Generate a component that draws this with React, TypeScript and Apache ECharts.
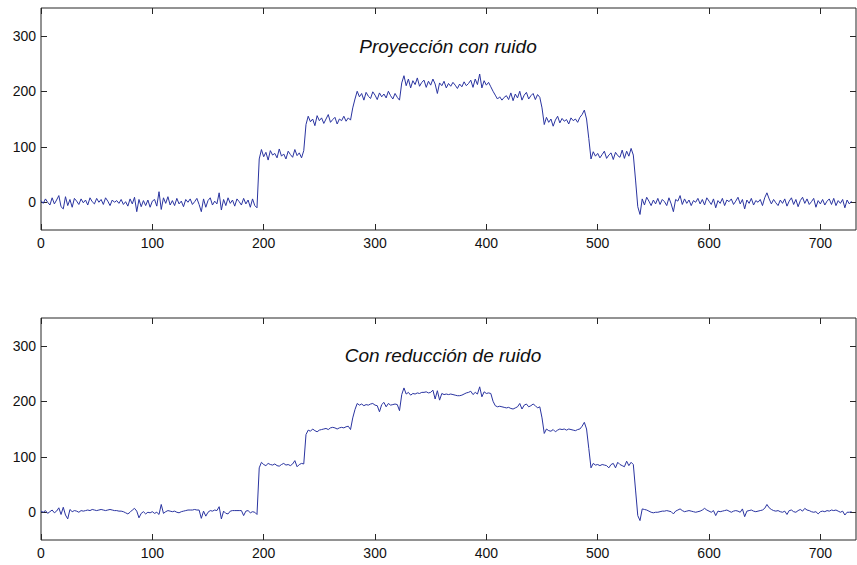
import React, { useEffect, useRef } from "react";
import * as echarts from "echarts";

// sample positions (every 2 samples along the projection)
const sampleX: number[] = Array.from({ length: 365 }, (_, i) => i * 2);

const xTicks = [0, 100, 200, 300, 400, 500, 600, 700];
const yTicks = [0, 100, 200, 300];

const titleTop = "Proyección con ruido";
const titleBottom = "Con reducción de ruido";

// Proyección con ruido
const noisy: number[] = [
  // x 0..194
  3, -2, 6, 0, -5, 8, -3, 4, 12, -8,
  -12, 10, -6, 5, -9, 7, 2, -4, 6, -1,
  4, -5, 8, 1, -3, 7, 0, 5, -4, 8,
  2, -6, 4, 0, 3, -2, 5, -4, 1, -7,
  6, -3, 9, -17, 5, -8, 3, -6, 4, -9,
  2, 5, -7, 19, -13, 8, -2, 10, -5, 3,
  -6, 7, -3, 2, -8, 5, 0, 6, -4, 1,
  7, -4, -17, 6, -9, 3, 8, -5, 2, -3,
  17, -14, 5, -6, 8, -2, 4, -7, 6, 1,
  -5, 7, -3, 4, -9, 6, -6, -10,
  // x 196..236
  78, 95, 82, 90, 76, 93, 85, 88, 80, 96, 83, 87, 78, 92, 86, 81, 95, 84, 89, 80, 93,
  // x 238..280
  140, 155, 145, 150, 138, 156, 147, 152, 142, 150, 158, 144, 149, 153, 141, 150, 147, 155, 146, 152, 148, 170,
  // x 282..322
  186, 200, 190, 196, 184, 198, 191, 187, 199, 193, 185, 197, 190, 195, 188, 200, 192, 186, 196, 189, 184,
  // x 324..406
  215, 228, 210, 222, 206, 219, 212, 224, 209, 216,
  220, 207, 218, 211, 222, 213, 196, 215, 210, 218,
  206, 214, 209, 216, 211, 205, 213, 208, 217, 210,
  214, 220, 207, 222, 212, 231, 206, 219, 211, 216,
  208, 200,
  // x 408..450
  193, 186, 190, 184, 189, 192, 185, 197, 183, 195, 188, 200, 184, 193, 198, 186, 192, 196, 185, 194, 189, 170,
  // x 452..492
  140, 153, 144, 150, 137, 148, 155, 143, 151, 146, 149, 141, 152, 147, 150, 144, 153, 158, 166, 150, 115,
  // x 494..532
  78, 91, 83, 88, 80, 86, 92, 79, 85, 89, 77, 90, 84, 81, 94, 79, 92, 83, 97, 85,
  // x 534..728
  40, -8, -22, 6, -5, 9, 2, -6, 4, -3,
  7, -4, 5, 1, -6, 8, -3, -17, 5, 2,
  12, -4, 6, -2, 4, -6, 3, 0, 7, -3,
  5, -5, 8, 2, -4, 6, -10, 3, -2, 7,
  -6, 4, 1, 6, -4, 2, 9, -3, 5, -12,
  4, -2, 7, -5, 3, 0, 5, -6, 8, 17,
  6, -3, 5, -1, -6, 4, -2, 6, -7, 2,
  8, -4, 5, -8, 3, 9, -2, 6, -4, 1,
  7, -9, 3, -3, 5, -5, 2, 6, -4, 7,
  -6, 3, -2, 5, -10, 4, -3, 2,
];

// Con reducción de ruido
const denoised: number[] = [
  // x 0..194
  2, 0, 3, -2, 1, 4, -1, 2, 8, -4,
  9, -5, -12, 5, 1, 3, 2, 0, 3, 2,
  3, 4, 3, 5, 4, 3, 4, 5, 4, 3,
  4, 5, 4, 3, 3, 2, 2, 1, -1, -3,
  0, 4, 7, 2, -10, -2, 1, -3, 0, -1,
  1, -2, 0, -4, 14, -2, 1, 3, 2, 1,
  2, 0, -1, 1, 2, 3, 4, 4, 4, 5,
  4, 4, -11, 2, -7, 0, 3, 2, 4, 3,
  10, -12, 2, -2, -3, 2, 3, 3, 3, 3,
  3, -6, 2, 3, -1, 1, 0, -4,
  // x 196..236
  80, 90, 86, 84, 88, 86, 85, 87, 84, 83, 86, 88, 85, 86, 84, 87, 93, 82, 86, 88, 87,
  // x 238..280
  140, 148, 146, 150, 147, 145, 148, 149, 150, 151, 149, 152, 153, 152, 150, 152, 153, 152, 154, 155, 149, 170,
  // x 282..322
  185, 196, 193, 195, 192, 194, 193, 195, 196, 193, 192, 181, 194, 198, 190, 196, 193, 194, 195, 194, 183,
  // x 324..406
  212, 224, 213, 216, 211, 214, 213, 215, 214, 216,
  216, 217, 215, 216, 220, 204, 219, 202, 214, 212,
  213, 212, 213, 212, 211, 210, 210, 211, 213, 215,
  216, 218, 212, 216, 213, 226, 208, 217, 214, 215,
  214, 200,
  // x 408..450
  192, 190, 191, 190, 189, 188, 189, 187, 186, 188, 190, 196, 186, 193, 195, 190, 192, 195, 192, 188, 190, 170,
  // x 452..492
  142, 150, 147, 146, 149, 145, 148, 150, 149, 150, 148, 150, 149, 148, 147, 149, 150, 155, 162, 150, 115,
  // x 494..532
  80, 88, 85, 86, 84, 86, 85, 84, 80, 86, 88, 80, 90, 86, 84, 82, 92, 84, 90, 86,
  // x 534..728
  40, -6, -15, 6, 5, 4, 2, 0, -1, 0,
  0, 1, 2, 2, 3, 2, 1, -3, 2, 4,
  6, 3, 1, 2, 3, 2, 1, 0, 1, 2,
  4, 7, 4, 2, 0, 3, -6, 2, 1, 2,
  3, 4, 2, 0, 2, 3, 2, 0, 6, -8,
  2, 3, 4, 2, 1, 2, 3, 4, 7, 14,
  8, 5, 3, 2, 3, 1, 0, 2, -4, 3,
  4, 1, 0, 3, 5, 2, 7, 4, 3, 1,
  0, 1, -3, 1, 2, 1, 3, 2, 4, 3,
  4, 2, 0, 2, -5, 0, 0, 1,
];

const AX = "#262626";
const LINE = "#2a34a0";
const FONT = "'Liberation Sans', Arial, Helvetica, sans-serif";

function xAxes(gridIndex: number) {
  const base = {
    type: "value" as const,
    gridIndex,
    min: 0,
    max: 732,
    splitLine: { show: false },
    axisLine: { show: false, onZero: false },
    axisTick: { show: true, inside: true, length: 6, customValues: xTicks, lineStyle: { color: AX } },
  };
  return [
    {
      ...base,
      position: "bottom",
      axisLabel: { show: true, customValues: xTicks, color: "#111", fontSize: 14, fontFamily: FONT, margin: 6 },
    },
    { ...base, position: "top", axisLabel: { show: false } },
  ];
}

function yAxes(gridIndex: number) {
  const base = {
    type: "value" as const,
    gridIndex,
    min: -50,
    max: 350,
    splitLine: { show: false },
    axisLine: { show: false, onZero: false },
    axisTick: { show: true, inside: true, length: 6, customValues: yTicks, lineStyle: { color: AX } },
  };
  return [
    {
      ...base,
      position: "left",
      axisLabel: { show: true, customValues: yTicks, color: "#111", fontSize: 14, fontFamily: FONT, margin: 5 },
    },
    { ...base, position: "right", axisLabel: { show: false } },
  ];
}

export default function App() {
  const ref = useRef<HTMLDivElement>(null);
  useEffect(() => {
    if (!ref.current) return;
    const chart = echarts.init(ref.current, null, { renderer: "svg" });
    const topData = sampleX.map((x, i) => [x, noisy[i]]);
    const botData = sampleX.map((x, i) => [x, denoised[i]]);
    chart.setOption({
      animation: false,
      backgroundColor: "#ffffff",
      grid: [
        { left: 41, top: 8, width: 815, height: 222, show: true, borderColor: AX, borderWidth: 1, backgroundColor: "transparent" },
        { left: 41, top: 318, width: 815, height: 222, show: true, borderColor: AX, borderWidth: 1, backgroundColor: "transparent" },
      ],
      xAxis: [...xAxes(0), ...xAxes(1)],
      yAxis: [...yAxes(0), ...yAxes(1)],
      series: [
        {
          type: "line",
          xAxisIndex: 0,
          yAxisIndex: 0,
          data: topData,
          showSymbol: false,
          symbol: "none",
          lineStyle: { color: LINE, width: 1 },
        },
        {
          type: "line",
          xAxisIndex: 2,
          yAxisIndex: 2,
          data: botData,
          showSymbol: false,
          symbol: "none",
          lineStyle: { color: LINE, width: 1 },
        },
      ],
      graphic: [
        {
          type: "text",
          x: 448,
          y: 46,
          style: { text: titleTop, fontSize: 19, fontStyle: "italic", fontFamily: FONT, fill: "#111", textAlign: "center", textVerticalAlign: "middle" },
        },
        {
          type: "text",
          x: 443,
          y: 355,
          style: { text: titleBottom, fontSize: 19, fontStyle: "italic", fontFamily: FONT, fill: "#111", textAlign: "center", textVerticalAlign: "middle" },
        },
      ],
    });
    return () => chart.dispose();
  }, []);
  return <div ref={ref} style={{ position: "absolute", left: 0, top: 0, width: 857, height: 565 }} />;
}
